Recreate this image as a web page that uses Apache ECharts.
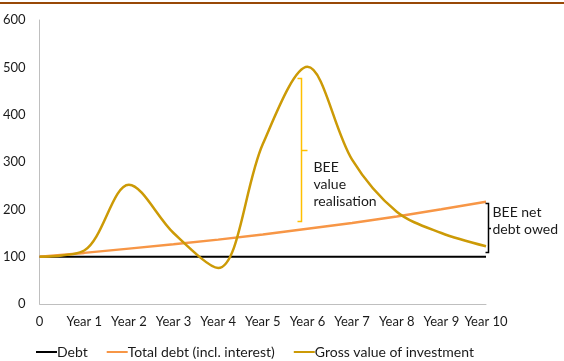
<!DOCTYPE html>
<html>
<head>
<meta charset="utf-8">
<script src="https://cdn.jsdelivr.net/npm/echarts@6/dist/echarts.min.js"></script>
<style>
  html, body { margin: 0; padding: 0; background: #fff; }
  #chart { width: 564px; height: 361px; }
</style>
</head>
<body>
<div id="chart"></div>
<script>
// Ten-year view of BEE debt against the value of the investment
var yearLabels = ['0', 'Year 1', 'Year 2', 'Year 3', 'Year 4', 'Year 5', 'Year 6', 'Year 7', 'Year 8', 'Year 9', 'Year 10'];
var debt = [100, 100, 100, 100, 100, 100, 100, 100, 100, 100, 100];
var totalDebt = [100, 108, 117, 126, 136, 147, 159, 171, 185, 200, 216];
var grossValue = [100, 113, 252, 150, 76, 338, 501, 305, 195, 150, 122];
var yTicks = [0, 100, 200, 300, 400, 500, 600];

// Brackets: [x position on the year scale, low value, high value]
var realisationBracket = [5.86, 175, 478];
var netDebtBracket = [10.05, 110, 214];

var FONT = 'Lato';

function pairs(values) {
  return values.map(function (v, i) { return [i, v]; });
}

var chart = echarts.init(document.getElementById('chart'), null, { renderer: 'canvas' });

function bracketItem(color, tickIn, tickOut, lines, textDx, textDy) {
  return function (params, api) {
    var top = api.coord([api.value(0), api.value(2)]);
    var bottom = api.coord([api.value(0), api.value(1)]);
    var x = Math.round(top[0]) + 0.5;
    var yTop = Math.round(top[1]) + 0.5;
    var yBot = Math.round(bottom[1]) + 0.5;
    var yMid = Math.round((yTop + yBot) / 2) + 0.5;
    var style = { stroke: color, lineWidth: 1.5, fill: null };
    return {
      type: 'group',
      children: [
        { type: 'polyline', shape: { points: [[x - tickIn, yTop], [x, yTop], [x, yBot], [x - tickIn, yBot]] }, style: style },
        { type: 'line', shape: { x1: x, y1: yMid, x2: x + tickOut, y2: yMid }, style: style },
        {
          type: 'text',
          x: x + textDx,
          y: yMid + textDy,
          style: {
            text: lines.join('\n'),
            fill: '#1a1a1a',
            font: '14px ' + FONT,
            lineHeight: 17,
            align: 'left',
            verticalAlign: 'top'
          }
        }
      ]
    };
  };
}

chart.setOption({
  animation: false,
  backgroundColor: '#ffffff',
  textStyle: { fontFamily: FONT },
  graphic: [
    { type: 'rect', left: 0, top: 2, shape: { width: 564, height: 2 }, style: { fill: '#984807' }, silent: true }
  ],
  grid: { left: 39, right: 78, top: 20, bottom: 57, containLabel: false },
  legend: {
    left: 36,
    top: 345,
    padding: 0,
    itemWidth: 21,
    itemHeight: 2,
    itemGap: 19,
    icon: 'rect',
    textStyle: { fontFamily: FONT, fontSize: 14, color: '#1a1a1a', padding: [0, 0, 0, -5] },
    data: ['Debt', 'Total debt (incl. interest)', 'Gross value of investment']
  },
  xAxis: {
    type: 'value',
    min: 0,
    max: 10,
    interval: 1,
    axisLine: { show: true, lineStyle: { color: '#bfbfbf', width: 1 } },
    axisTick: { show: false },
    splitLine: { show: false },
    axisLabel: {
      margin: 11,
      color: '#1a1a1a',
      fontFamily: FONT,
      fontSize: 13,
      formatter: function (v) { return yearLabels[v]; }
    }
  },
  yAxis: {
    type: 'value',
    min: yTicks[0],
    max: yTicks[yTicks.length - 1],
    interval: 100,
    axisLine: { show: true, lineStyle: { color: '#bfbfbf', width: 1 } },
    axisTick: { show: false },
    splitLine: { show: false },
    axisLabel: { margin: 14, color: '#1a1a1a', fontFamily: FONT, fontSize: 13 }
  },
  series: [
    {
      name: 'Debt',
      type: 'line',
      data: pairs(debt),
      showSymbol: false,
      lineStyle: { color: '#000000', width: 2 },
      itemStyle: { color: '#000000' },
      z: 3
    },
    {
      name: 'Total debt (incl. interest)',
      type: 'line',
      data: pairs(totalDebt),
      showSymbol: false,
      lineStyle: { color: '#F79646', width: 2.5 },
      itemStyle: { color: '#F79646' },
      z: 4
    },
    {
      name: 'Gross value of investment',
      type: 'line',
      data: pairs(grossValue),
      smooth: 0.33,
      showSymbol: false,
      lineStyle: { color: '#CC9A06', width: 2.5 },
      itemStyle: { color: '#CC9A06' },
      z: 5
    },
    {
      type: 'custom',
      renderItem: bracketItem('#FFC000', 4, 6, ['BEE', 'value', 'realisation'], 12, 8),
      data: [realisationBracket],
      silent: true,
      z: 6
    },
    {
      type: 'custom',
      renderItem: bracketItem('#000000', 3, 2.5, ['BEE net', 'debt owed'], 4, -25),
      data: [netDebtBracket],
      silent: true,
      z: 6
    }
  ]
});
</script>
</body>
</html>
